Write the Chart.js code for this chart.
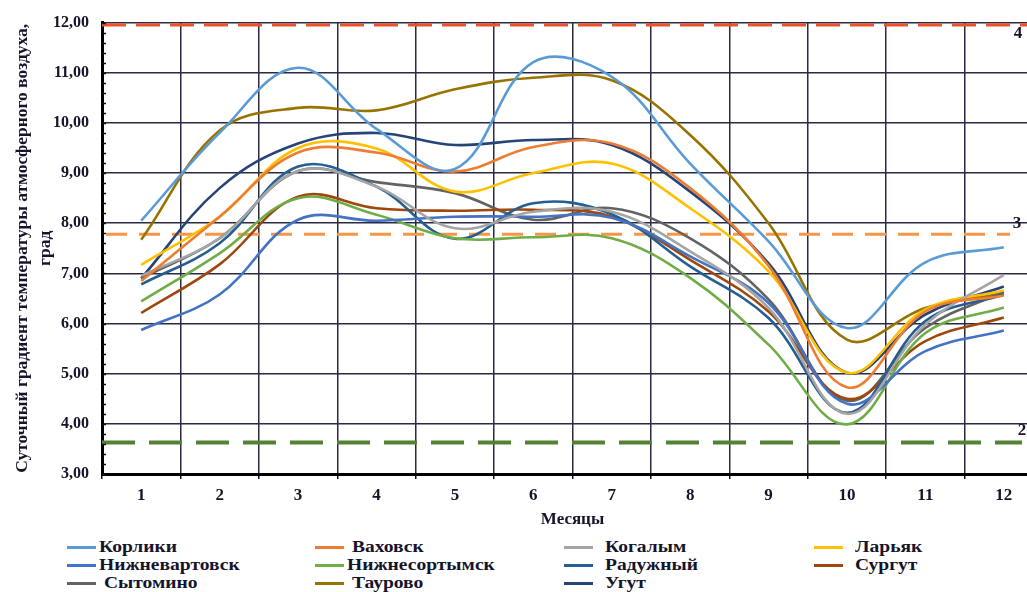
<!DOCTYPE html>
<html lang="ru">
<head>
  <meta charset="UTF-8" />
  <title>Суточный градиент температуры атмосферного воздуха</title>
  <script src="https://cdn.jsdelivr.net/npm/chart.js"></script>
  <style>
    html, body { margin: 0; padding: 0; background: #fff; overflow: hidden; }
    body {
      width: 1027px; height: 592px; position: relative;
      font-family: 'Liberation Serif', 'Times New Roman', serif;
      color: #14142a;
    }
    .chart-box { position: absolute; left: 0; top: 0; width: 1060px; height: 530px; }
    .legend-item { position: absolute; height: 18px; display: flex; align-items: center; white-space: pre; }
    .legend-item .swatch { width: 29px; height: 3px; margin-right: 3px; }
    .legend-item .name { font-weight: bold; font-size: 16px; transform: scaleX(1.22); transform-origin: left center; }
  </style>
</head>
<body>
<div class="chart-box"><canvas id="gradChart" width="1060" height="530"></canvas></div>
<div id="legend"></div>

<script>
  // months on the x axis
  const months = ['1', '2', '3', '4', '5', '6', '7', '8', '9', '10', '11', '12'];

  // daily temperature gradient by station
  const korliki        = [8.05, 9.80, 11.10, 9.88, 9.08, 11.21, 10.92, 9.19, 7.64, 5.91, 7.22, 7.52];
  const vakhovsk       = [6.85, 8.13, 9.41, 9.41, 9.03, 9.52, 9.59, 8.70, 7.15, 4.73, 6.24, 6.56];
  const kogalym        = [6.95, 7.70, 9.04, 8.73, 7.90, 8.23, 8.23, 7.44, 6.31, 4.20, 5.98, 6.97];
  const laryak         = [7.17, 8.13, 9.50, 9.49, 8.63, 9.00, 9.19, 8.30, 7.04, 5.02, 6.28, 6.66];
  const nizhnevartovsk = [5.87, 6.58, 8.07, 8.05, 8.13, 8.13, 8.11, 7.34, 6.41, 4.40, 5.45, 5.86];
  const nizhnesortymsk = [6.44, 7.40, 8.50, 8.17, 7.70, 7.72, 7.70, 6.91, 5.58, 3.99, 5.81, 6.32];
  const raduzhny       = [6.78, 7.60, 9.13, 8.73, 7.69, 8.40, 8.18, 7.14, 6.11, 4.22, 6.05, 6.58];
  const surgut         = [6.21, 7.18, 8.53, 8.30, 8.25, 8.27, 8.13, 7.27, 6.24, 4.50, 5.65, 6.12];
  const sytomino       = [6.90, 7.70, 9.04, 8.82, 8.60, 8.07, 8.30, 7.70, 6.48, 4.46, 5.91, 6.63];
  const taurovo        = [7.67, 9.85, 10.30, 10.25, 10.67, 10.90, 10.85, 9.76, 8.00, 5.68, 6.31, 6.61];
  const ugut           = [6.90, 8.70, 9.59, 9.80, 9.56, 9.66, 9.56, 8.63, 7.20, 5.02, 6.18, 6.74];

  const stationNames = ['Корлики', 'Ваховск', 'Когалым', 'Ларьяк', 'Нижневартовск', 'Нижнесортымск',
                        'Радужный', 'Сургут', 'Сытомино', 'Таурово', 'Угут'];
  const stationData = [korliki, vakhovsk, kogalym, laryak, nizhnevartovsk, nizhnesortymsk,
                       raduzhny, surgut, sytomino, taurovo, ugut];
  const stationColors = ['#5b9bd5', '#ed7d31', '#a5a5a5', '#ffc000', '#4472c4', '#70ad47',
                         '#255e91', '#9e480e', '#636363', '#997300', '#264478'];

  // horizontal dashed reference levels and their numbers
  const refLevels = [11.95, 7.78, 3.63];
  const refLabels = ['4', '3', '2'];

  // y axis range
  const yMin = 3, yMax = 12;

  const refStyle = [
    { color: '#f0502a', width: 3, dash: [24, 10], x0: 0, x1: 1060, lx: 1018, ly: 9 },
    { color: '#f79646', width: 3, dash: [21, 12], x0: 106, x1: 1010, lx: 1017, ly: -11 },
    { color: '#548235', width: 4, dash: [33, 14], x0: 100, x1: 1022, lx: 1022, ly: -12 }
  ];

  const refLinesPlugin = {
    id: 'refLines',
    beforeDatasetsDraw(chart) {
      const { ctx, chartArea: a, scales: { y } } = chart;
      ctx.save();
      ctx.beginPath();
      ctx.rect(a.left, a.top - 5, a.right - a.left, a.bottom - a.top + 5);
      ctx.clip();
      refLevels.forEach((v, i) => {
        const s = refStyle[i];
        const py = y.getPixelForValue(v);
        ctx.strokeStyle = s.color;
        ctx.lineWidth = s.width;
        ctx.setLineDash(s.dash);
        ctx.beginPath();
        ctx.moveTo(Math.max(s.x0, a.left), py);
        ctx.lineTo(Math.min(s.x1, a.right), py);
        ctx.stroke();
      });
      ctx.restore();

      // minor ticks along the y axis
      ctx.save();
      ctx.strokeStyle = '#111';
      ctx.lineWidth = 1.5;
      for (let v = yMin; v <= yMax + 0.001; v += 0.2) {
        const py = Math.round(y.getPixelForValue(v)) + 0.5;
        ctx.beginPath();
        ctx.moveTo(a.left, py);
        ctx.lineTo(a.left + 4, py);
        ctx.stroke();
      }
      ctx.restore();
    },
    afterDraw(chart) {
      const { ctx, scales: { y } } = chart;
      ctx.save();
      ctx.fillStyle = '#14142a';
      ctx.font = 'bold 17px "Liberation Serif"';
      ctx.textAlign = 'center';
      ctx.textBaseline = 'middle';
      refLevels.forEach((v, i) => {
        const s = refStyle[i];
        ctx.fillText(refLabels[i], s.lx, y.getPixelForValue(v) + s.ly);
      });
      ctx.restore();
    }
  };

  const tickFont = { family: 'Liberation Serif', weight: 'bold', size: 16 };

  new Chart(document.getElementById('gradChart'), {
    type: 'line',
    data: {
      labels: months,
      datasets: stationNames.map((name, i) => ({
        label: name,
        data: stationData[i],
        borderColor: stationColors[i],
        backgroundColor: stationColors[i],
        borderWidth: 2.6,
        pointRadius: 0,
        tension: 0.38,
        fill: false
      }))
    },
    options: {
      responsive: false,
      animation: false,
      layout: { padding: { top: 20, right: 17, left: 0, bottom: 0 } },
      plugins: { legend: { display: false }, tooltip: { enabled: false } },
      scales: {
        x: {
          offset: true,
          grid: { offset: true, color: '#2a2a44', lineWidth: 1.5, tickLength: 5, tickColor: '#111' },
          border: { color: '#000', width: 3 },
          ticks: { color: '#14142a', font: { family: 'Liberation Serif', weight: 'bold', size: 17 }, padding: 6, maxRotation: 0 },
          title: { display: true, text: 'Месяцы', color: '#14142a', font: { family: 'Liberation Serif', weight: 'bold', size: 17 }, padding: { top: 0, bottom: 0 } },
          afterFit(scale) { scale.height = 56; }
        },
        y: {
          min: yMin,
          max: yMax,
          grid: { color: '#2a2a44', lineWidth: 1.5, drawTicks: false },
          border: { color: '#000', width: 3 },
          ticks: {
            stepSize: 1,
            color: '#14142a',
            font: tickFont,
            padding: 13,
            callback: v => v.toFixed(2).replace('.', ',')
          },
          title: {
            display: true,
            text: ['Суточный градиент температуры атмосферного воздуха,', 'град'],
            color: '#14142a',
            font: { family: 'Liberation Serif', weight: 'bold', size: 17.5, lineHeight: 1.3 },
            padding: { top: 11, bottom: 0 }
          },
          afterFit(scale) { scale.width = 102; }
        }
      }
    },
    plugins: [refLinesPlugin]
  });

  // legend laid out in four columns, row by row
  const legendCols = [67, 315, 564, 814];
  const legendRows = [547, 565, 583];
  const legendPad = ['', ' ', '', '', '', '', '', '', ' ', ' ', ''];
  const legendEl = document.getElementById('legend');
  stationNames.forEach((name, i) => {
    const item = document.createElement('div');
    item.className = 'legend-item';
    item.style.left = legendCols[i % 4] + 'px';
    item.style.top = (legendRows[Math.floor(i / 4)] - 9) + 'px';
    const sw = document.createElement('span');
    sw.className = 'swatch';
    sw.style.background = stationColors[i];
    const tx = document.createElement('span');
    tx.className = 'name';
    tx.textContent = legendPad[i] + name;
    if (i % 4 >= 2) tx.style.marginLeft = '9px';
    item.appendChild(sw);
    item.appendChild(tx);
    legendEl.appendChild(item);
  });
</script>
</body>
</html>
